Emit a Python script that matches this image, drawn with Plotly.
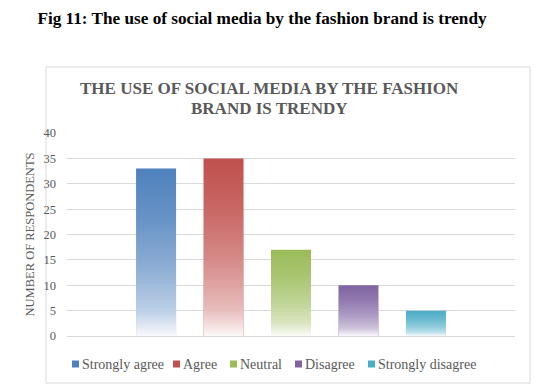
import plotly.graph_objects as go

categories = ["Strongly agree", "Agree", "Neutral", "Disagree", "Strongly disagree"]
values = [33, 35, 17, 10, 5]
colors = ["#4F81BD", "#C0504D", "#9BBB59", "#8064A2", "#4BACC6"]
y_ticks = [0, 5, 10, 15, 20, 25, 30, 35, 40]

fig_title = "<b>Fig 11: The use of social media by the fashion brand is trendy</b>"
chart_title_lines = ["<b>THE USE OF SOCIAL MEDIA BY THE FASHION</b>", "<b>BRAND IS TRENDY</b>"]
y_title = "NUMBER OF RESPONDENTS"

W, H = 535, 388
L, R, T, B = 67, 20, 133, 52
pw, ph = W - L - R, H - T - B

def px_x(p):
    return (p - L) / pw

def px_y(p):
    return (H - B - p) / ph

bar_w = 0.593
serif = "Liberation Serif, Times New Roman, serif"
grey = "#595959"

fig = go.Figure()
for i, (name, v, c) in enumerate(zip(categories, values, colors)):
    fig.add_trace(go.Bar(x=[i], y=[v], width=bar_w, name=name, showlegend=False,
                         marker=dict(color=c, line=dict(width=0)),
                         hovertemplate=name + ": %{y}<extra></extra>"))
for i, v in enumerate(values):
    x0, x1 = i - bar_w / 2, i + bar_w / 2
    fig.add_trace(go.Scatter(
        x=[x0, x1, x1, x0, x0], y=[0, 0, v, v, 0],
        mode="none", fill="toself", showlegend=False, hoverinfo="skip",
        fillgradient=dict(type="vertical", colorscale=[
            [0.0, "rgba(255,255,255,0.96)"],
            [0.15, "rgba(255,255,255,0.62)"],
            [0.4, "rgba(255,255,255,0.36)"],
            [0.7, "rgba(255,255,255,0.14)"],
            [1.0, "rgba(255,255,255,0.0)"]])))

# legend (drawn as in the reference: small square + label)
legend_square_x = [72, 173, 230, 295, 368]
legend_y = 364
annotations = []
shapes = [dict(type="rect", xref="paper", yref="paper",
               x0=px_x(46), x1=px_x(530), y0=px_y(383), y1=px_y(67),
               line=dict(color="#D9D9D9", width=1), fillcolor="rgba(0,0,0,0)", layer="below")]
for name, c, sx in zip(categories, colors, legend_square_x):
    shapes.append(dict(type="rect", xref="paper", yref="paper",
                       x0=px_x(sx), x1=px_x(sx + 7), y0=px_y(legend_y + 3.5), y1=px_y(legend_y - 3.5),
                       line=dict(width=0), fillcolor=c))
    annotations.append(dict(text=name, x=px_x(sx + 8), y=px_y(legend_y), xref="paper", yref="paper",
                            xanchor="left", yanchor="middle", showarrow=False,
                            font=dict(family=serif, size=14, color=grey)))
for line, yc in zip(chart_title_lines, [88.7, 108.3]):
    annotations.append(dict(text=line, x=px_x(269), y=px_y(yc), xref="paper", yref="paper",
                            xanchor="center", yanchor="middle", showarrow=False,
                            font=dict(family=serif, size=17, color=grey)))

fig.update_layout(
    width=W, height=H,
    margin=dict(l=L, r=R, t=T, b=B, autoexpand=False),
    paper_bgcolor="white", plot_bgcolor="white",
    barmode="overlay", showlegend=False,
    font=dict(family=serif, color=grey),
    title=dict(text=fig_title, x=262 / W, y=1 - 18 / H, xref="container", yref="container",
               xanchor="center", yanchor="middle",
               font=dict(family=serif, size=17.2, color="black")),
    xaxis=dict(range=[-1.32, 5.32], showticklabels=False, showgrid=False, zeroline=False,
               showline=True, linecolor="#D9D9D9", linewidth=1, fixedrange=True),
    yaxis=dict(range=[0, 40], tickvals=y_ticks, showgrid=True, gridcolor="#D9D9D9", gridwidth=1,
               zeroline=False, showline=False, ticks="", ticklabelstandoff=10,
               tickfont=dict(family=serif, size=12.5, color=grey),
               title=dict(text=y_title, standoff=6, font=dict(family=serif, size=12.5, color=grey))),
    annotations=annotations,
    shapes=shapes,
)

fig.write_html("out.html", config={"displayModeBar": False},
               post_script="document.body.style.margin='0px';")
